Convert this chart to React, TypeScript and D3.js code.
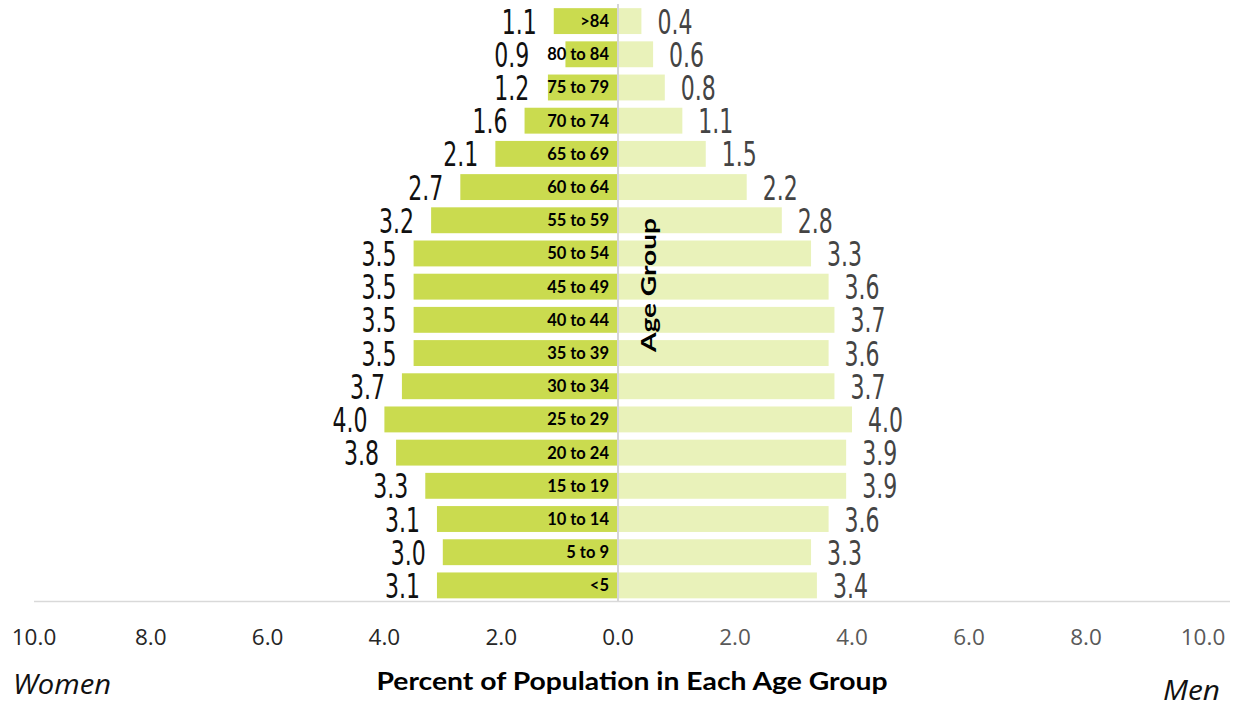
import React from "react";
import * as d3 from "d3";

const categories = [">84", "80 to 84", "75 to 79", "70 to 74", "65 to 69", "60 to 64", "55 to 59", "50 to 54", "45 to 49", "40 to 44", "35 to 39", "30 to 34", "25 to 29", "20 to 24", "15 to 19", "10 to 14", "5 to 9", "<5"];
const women = [1.1, 0.9, 1.2, 1.6, 2.1, 2.7, 3.2, 3.5, 3.5, 3.5, 3.5, 3.7, 4.0, 3.8, 3.3, 3.1, 3.0, 3.1];
const men = [0.4, 0.6, 0.8, 1.1, 1.5, 2.2, 2.8, 3.3, 3.6, 3.7, 3.6, 3.7, 4.0, 3.9, 3.9, 3.6, 3.3, 3.4];
const ticks = [0, 2, 4, 6, 8, 10];

const W = 1237;
const H = 704;
const CX = 618;
const CAT_RIGHT = 609;
const CAT_FONT = "Lato, 'Open Sans', sans-serif";
const NUM_FONT = "'DejaVu Sans Condensed', 'Liberation Sans Narrow', sans-serif";

function measure(text: string, font: string): number {
  const canvas = document.createElement("canvas");
  const ctx = canvas.getContext("2d");
  if (!ctx) return text.length * 8;
  ctx.font = font;
  return ctx.measureText(text).width;
}

export default function App() {
  const y = d3.scaleBand<string>().domain(categories).range([4.5, 602]).paddingInner(0.22).paddingOuter(0.11);
  const xL = d3.scaleLinear().domain([0, 10]).range([CX, 34]);
  const xR = d3.scaleLinear().domain([0, 10]).range([CX, 1203]);
  const bw = y.bandwidth();
  const fmt = d3.format(".1f");
  return (
    <svg width={W} height={H} style={{ position: "absolute", left: 0, top: 0, background: "#fff" }}>
      {categories.map((c, i) => (
        <g key={c}>
          <rect x={xL(women[i])} y={y(c)} width={CX - xL(women[i])} height={bw} fill="#cadb4f" />
          <rect x={CX} y={y(c)} width={xR(men[i]) - CX} height={bw} fill="#e9f2ba" />
        </g>
      ))}
      <line x1={CX} x2={CX} y1={4} y2={601} stroke="#d6d6d6" strokeWidth={2} />
      <line x1={34} x2={1230} y1={601.5} y2={601.5} stroke="#d9d9d9" strokeWidth={1.5} />
      {categories.map((c, i) => {
        const yc = (y(c) as number) + bw / 2;
        const catW = measure(c, `700 16.5px ${CAT_FONT}`);
        const wRight = Math.min(xL(women[i]) - 17, CAT_RIGHT - catW - 18);
        return (
          <g key={"l" + c}>
            <text x={CAT_RIGHT} y={yc + 6} textAnchor="end" fontFamily={CAT_FONT} fontWeight={700} fontSize={16.5} fill="#000">{c}</text>
            <text x={wRight} y={yc + 12.5} textAnchor="end" fontFamily={NUM_FONT} fontSize={34} fill="#111" textLength={35} lengthAdjust="spacingAndGlyphs">{fmt(women[i])}</text>
            <text x={xR(men[i]) + 16} y={yc + 12.5} textAnchor="start" fontFamily={NUM_FONT} fontSize={34} fill="#444" textLength={35} lengthAdjust="spacingAndGlyphs">{fmt(men[i])}</text>
          </g>
        );
      })}
      <text transform="translate(656,285) rotate(-90)" textAnchor="middle" fontFamily={CAT_FONT} fontWeight={700} fontSize={21} fill="#000" textLength={134} lengthAdjust="spacingAndGlyphs">Age Group</text>
      {ticks.map((t) => (
        <text key={"tl" + t} x={xL(t)} y={644.5} textAnchor="middle" fontFamily="'Open Sans', sans-serif" fontSize={22.5} fill="#262626">{fmt(t)}</text>
      ))}
      {ticks.filter((t) => t > 0).map((t) => (
        <text key={"tr" + t} x={xR(t)} y={644.5} textAnchor="middle" fontFamily="'Open Sans', sans-serif" fontSize={22.5} fill="#595959">{fmt(t)}</text>
      ))}
      <text x={632} y={690} textAnchor="middle" fontFamily={CAT_FONT} fontWeight={700} fontSize={25} fill="#000" textLength={511} lengthAdjust="spacingAndGlyphs">Percent of Population in Each Age Group</text>
      <text x={13} y={694} fontFamily="'Open Sans', sans-serif" fontStyle="italic" fontSize={27} fill="#111" textLength={98} lengthAdjust="spacingAndGlyphs">Women</text>
      <text x={1163} y={700} fontFamily="'Open Sans', sans-serif" fontStyle="italic" fontSize={27} fill="#111" textLength={57} lengthAdjust="spacingAndGlyphs">Men</text>
    </svg>
  );
}
